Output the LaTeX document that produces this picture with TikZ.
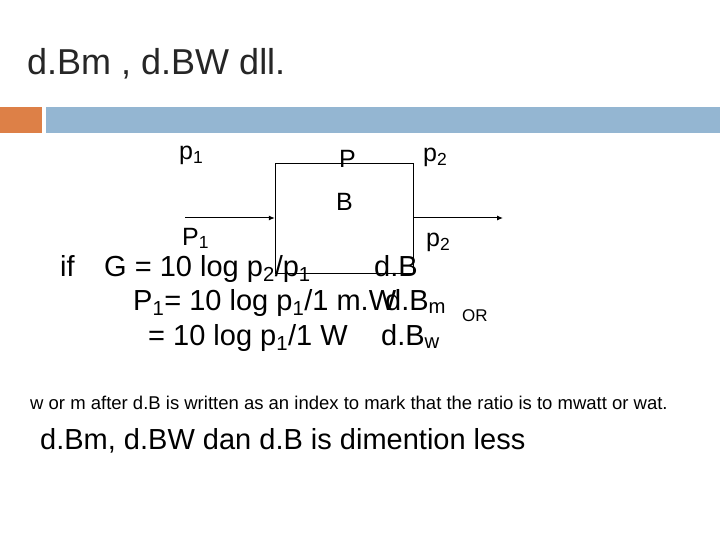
\documentclass[tikz,border=0pt]{standalone}
\usepackage{fontspec}
\usetikzlibrary{arrows.meta}
\setmainfont{Liberation Sans}
\definecolor{acc}{HTML}{DD8047}
\definecolor{bar}{HTML}{94B6D2}
\newcommand{\sbs}[1]{\textsubscript{#1}}
\begin{document}
\begin{tikzpicture}[x=1pt,y=-1pt,
  t/.style={anchor=base west,inner sep=0pt,font=\fontsize{29}{32}\selectfont},
  s/.style={anchor=base west,inner sep=0pt,font=\fontsize{25}{28}\selectfont},
  arr/.style={line width=1pt,-{Latex[length=6pt,width=5pt]}}]
\useasboundingbox (0,0) rectangle (720,540);
\fill[white] (0,0) rectangle (720,540);
\node[anchor=base west,inner sep=0pt,font=\fontsize{36}{40}\selectfont,text=black!85] (title) at (27,75) {d.Bm , d.BW dll.};
\fill[acc] (0,107) rectangle (42,133);
\fill[bar] (46,107) rectangle (720,133);
\node[draw,minimum width=138,minimum height=110,inner sep=0pt] (box) at (344,218) {};
\coordinate (in) at (185,218);
\coordinate (out) at (503,218);
\draw[arr] (in) -- (box.west);
\draw[arr] (box.east) -- (out);
\node[s] (pa) at (179,160) {p\sbs{1}};
\node[s] (pb) at (339,168) {P};
\node[s] (pc) at (423,162) {p\sbs{2}};
\node[s] (pd) at (336,211) {B};
\node[s] (pe) at (182,245) {P\sbs{1}};
\node[s] (pf) at (426,247) {p\sbs{2}};
\node[t] (if) at (60,276) {if};
\node[t] (g) at (104,276) {G = 10 log p\sbs{2}/p\sbs{1}};
\node[t] (db) at (374,276) {d.B};
\node[t] (p1) at (133,310) {P\sbs{1}= 10 log p\sbs{1}/1 m.W};
\node[t] (dbm) at (385,310) {d.B\sbs{m}};
\node[anchor=base west,inner sep=0pt,font=\fontsize{17}{20}\selectfont] (or) at (462,321) {OR};
\node[t] (p2) at (148,345) {= 10 log p\sbs{1}/1 W};
\node[t] (dbw) at (381,345) {d.B\sbs{w}};
\node[anchor=base west,inner sep=0pt,font=\fontsize{18.5}{21}\selectfont] (note) at (30,409) {w or m after d.B is written as an index to mark that the ratio is to mwatt or wat.};
\node[t] (last) at (40,449) {d.Bm, d.BW dan d.B is dimention less};
\end{tikzpicture}
\end{document}
